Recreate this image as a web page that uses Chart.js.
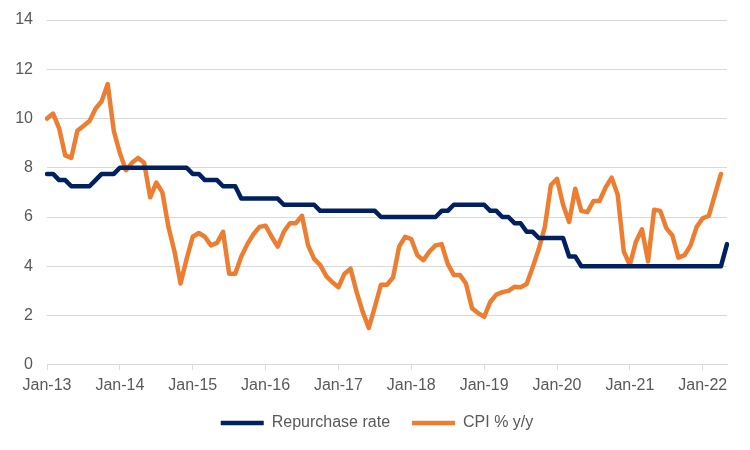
<!DOCTYPE html>
<html>
<head>
<meta charset="utf-8">
<script src="https://cdn.jsdelivr.net/npm/chart.js@4"></script>
<style>
  html, body { margin: 0; padding: 0; background: #ffffff; }
  #wrap { width: 750px; height: 450px; }
</style>
</head>
<body>
<div id="wrap"><canvas id="chart-1" width="750" height="450"></canvas></div>
<script>
// Month labels, Jan-13 .. May-22
const monthNames = ["Jan", "Feb", "Mar", "Apr", "May", "Jun", "Jul", "Aug", "Sep", "Oct", "Nov", "Dec"];
const years = ["13", "14", "15", "16", "17", "18", "19", "20", "21", "22"];
const lastMonthIndex = 4; // May-22

// Repurchase rate, monthly
const repoRate = [
  7.75, 7.75, 7.5, 7.5, 7.25, 7.25, 7.25, 7.25, 7.5, 7.75, 7.75, 7.75,
  8, 8, 8, 8, 8, 8, 8, 8, 8, 8, 8, 8,
  7.75, 7.75, 7.5, 7.5, 7.5, 7.25, 7.25, 7.25, 6.75, 6.75, 6.75, 6.75,
  6.75, 6.75, 6.75, 6.5, 6.5, 6.5, 6.5, 6.5, 6.5, 6.25, 6.25, 6.25,
  6.25, 6.25, 6.25, 6.25, 6.25, 6.25, 6.25, 6, 6, 6, 6, 6,
  6, 6, 6, 6, 6, 6.25, 6.25, 6.5, 6.5, 6.5, 6.5, 6.5,
  6.5, 6.25, 6.25, 6, 6, 5.75, 5.75, 5.4, 5.4, 5.15, 5.15, 5.15,
  5.15, 5.15, 4.4, 4.4, 4, 4, 4, 4, 4, 4, 4, 4,
  4, 4, 4, 4, 4, 4, 4, 4, 4, 4, 4, 4,
  4, 4, 4, 4, 4.9
];

// CPI % y/y, monthly
const cpi = [
  10.0, 10.2, 9.6, 8.5, 8.4, 9.5, 9.7, 9.9, 10.4, 10.7, 11.4, 9.5,
  8.6, 7.9, 8.2, 8.4, 8.2, 6.8, 7.4, 7.0, 5.6, 4.6, 3.3, 4.3,
  5.2, 5.35, 5.2, 4.85, 4.95, 5.4, 3.7, 3.7, 4.4, 4.9, 5.3, 5.6,
  5.65, 5.2, 4.8, 5.4, 5.75, 5.75, 6.05, 4.85, 4.3, 4.05, 3.6, 3.35,
  3.15, 3.7, 3.9, 2.95, 2.15, 1.5, 2.35, 3.25, 3.25, 3.55, 4.8, 5.2,
  5.1, 4.45, 4.25, 4.6, 4.85, 4.9, 4.1, 3.65, 3.65, 3.3, 2.3, 2.1,
  1.95, 2.55, 2.85, 2.95, 3.0, 3.17, 3.15, 3.28, 3.96, 4.7, 5.6, 7.3,
  7.55, 6.5, 5.8, 7.15, 6.25, 6.2, 6.65, 6.65, 7.2, 7.6, 6.9, 4.6,
  4.05, 5.0, 5.5, 4.2, 6.3, 6.25, 5.55, 5.25, 4.35, 4.45, 4.85, 5.6,
  5.95, 6.05, 6.9, 7.75
];

const yTicks = { min: 0, max: 14, step: 2 };

const labels = [];
years.forEach((yr, yi) => {
  monthNames.forEach((mn, mi) => {
    if (yi === years.length - 1 && mi > lastMonthIndex) return;
    labels.push(mn + "-" + yr);
  });
});

const textColor = "#595959";
const gridColor = "#D9D9D9";
const fontFamily = "'Liberation Sans', Arial, sans-serif";

const ctx = document.getElementById("chart-1").getContext("2d");
const myChart = new Chart(ctx, {
  type: "line",
  data: {
    labels: labels,
    datasets: [
      {
        label: "Repurchase rate",
        data: repoRate,
        borderColor: "#002060",
        backgroundColor: "#002060",
        borderWidth: 4.5,
        borderCapStyle: "round",
        borderJoinStyle: "round",
        pointRadius: 0,
        tension: 0,
      },
      {
        label: "CPI % y/y",
        data: cpi,
        borderColor: "#ED7D31",
        backgroundColor: "#ED7D31",
        borderWidth: 4.5,
        borderCapStyle: "round",
        borderJoinStyle: "round",
        pointRadius: 0,
        tension: 0,
      },
    ],
  },
  options: {
    responsive: false,
    animation: false,
    devicePixelRatio: 1,
    layout: {
      padding: { left: 14, right: 10, top: 20, bottom: 9 },
    },
    plugins: {
      tooltip: { enabled: false },
      legend: {
        position: "bottom",
        labels: {
          usePointStyle: true,
          pointStyle: "line",
          pointStyleWidth: 43,
          padding: 22,
          color: textColor,
          font: { family: fontFamily, size: 16 },
        },
      },
    },
    scales: {
      x: {
        offset: false,
        border: { display: true, color: gridColor, width: 1 },
        grid: {
          drawOnChartArea: false,
          drawTicks: true,
          tickLength: 5,
          color: (c) => (c.index % 12 === 0 ? gridColor : "rgba(0,0,0,0)"),
        },
        ticks: {
          autoSkip: false,
          maxRotation: 0,
          padding: 6,
          color: textColor,
          font: { family: fontFamily, size: 16 },
          callback: function (value, index) {
            return index % 12 === 0 ? labels[index] : "";
          },
        },
        afterFit: (scale) => {
          scale.height -= 8;
        },
      },
      y: {
        min: yTicks.min,
        max: yTicks.max,
        border: { display: false },
        grid: { color: gridColor, lineWidth: 1, drawTicks: false },
        ticks: {
          stepSize: yTicks.step,
          padding: 14,
          color: textColor,
          font: { family: fontFamily, size: 16 },
        },
        afterFit: (scale) => {
          scale.width = 33;
          scale.paddingTop = 0;
          scale.paddingBottom = 0;
        },
      },
      // empty right-hand strip so the plot ends where the reference does
      yRight: {
        position: "right",
        display: true,
        grid: { display: false },
        border: { display: false },
        ticks: { display: false },
        afterFit: (scale) => {
          scale.width = 13;
        },
      },
    },
  },
});
</script>
</body>
</html>
